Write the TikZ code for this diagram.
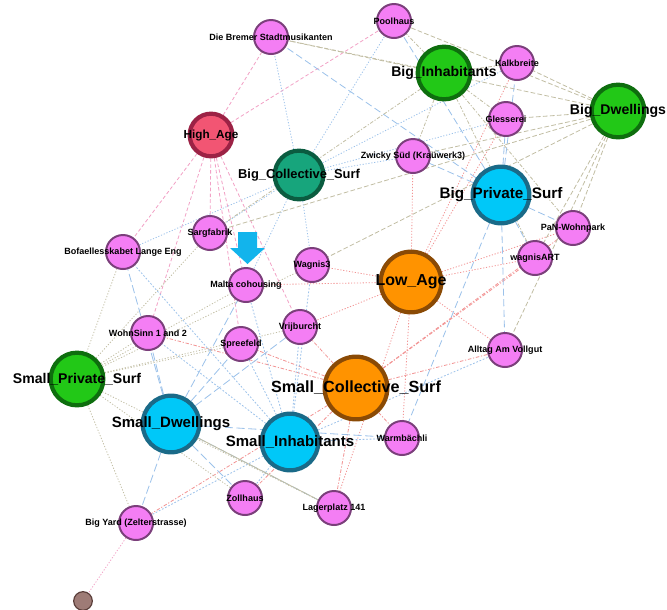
\documentclass[tikz,border=0pt]{standalone}
\usepackage{fontspec}
\setmainfont{Liberation Sans}
\usetikzlibrary{backgrounds}

\definecolor{projfill}{HTML}{F47EF4}
\definecolor{projline}{HTML}{7B3F7B}
\definecolor{grnfill}{HTML}{22C817}
\definecolor{grnline}{HTML}{0E6E0E}
\definecolor{cyfill}{HTML}{00C8F8}
\definecolor{cyline}{HTML}{1A6A88}
\definecolor{orfill}{HTML}{FF9300}
\definecolor{orline}{HTML}{8A4A05}
\definecolor{agefill}{HTML}{F25573}
\definecolor{ageline}{HTML}{9C2245}
\definecolor{tealfill}{HTML}{17A57C}
\definecolor{tealline}{HTML}{0B5C40}
\definecolor{brfill}{HTML}{9E7B76}
\definecolor{brline}{HTML}{5A3E3A}
\definecolor{arrowcy}{HTML}{12B4EC}
\definecolor{epink}{HTML}{F2A2C6}
\definecolor{ered}{HTML}{F29494}
\definecolor{eblue}{HTML}{9CC2EA}
\definecolor{egrey}{HTML}{C2BEA4}

\begin{document}
\begin{tikzpicture}[x=0.03cm, y=-0.03cm,
	proj/.style={circle, draw=projline, fill=projfill, line width=1.7pt, minimum size=1.02cm, inner sep=0pt},
	plab/.style={font=\bfseries\fontsize{7.7}{8}\selectfont, inner sep=0pt},
	attr/.style={circle, line width=3.6pt, inner sep=0pt},
	alab/.style={font=\bfseries\fontsize{#1}{#1}\selectfont, inner sep=0pt},
	edge/.style={line width=0.7pt}]
	\useasboundingbox (0,0) rectangle (667,609);

	% attribute nodes
	\node[attr, draw=grnline, fill=grnfill, minimum size=1.58cm, label={[alab=12]center:Big\_Inhabitants}] (binh) at (444,73) {};
	\node[attr, draw=grnline, fill=grnfill, minimum size=1.58cm, label={[alab=12]center:Big\_Dwellings}] (bdwe) at (618,111) {};
	\node[attr, draw=ageline, fill=agefill, minimum size=1.28cm, label={[alab=10]center:High\_Age}] (hage) at (211,135) {};
	\node[attr, draw=tealline, fill=tealfill, minimum size=1.46cm, label={[alab=11]center:Big\_Collective\_Surf}] (bcol) at (299,175) {};
	\node[attr, draw=cyline, fill=cyfill, minimum size=1.7cm, label={[alab=13]center:Big\_Private\_Surf}] (bpri) at (501,195) {};
	\node[attr, draw=orline, fill=orfill, minimum size=1.82cm, label={[alab=13.6]center:Low\_Age}] (lage) at (411,282) {};
	\node[attr, draw=grnline, fill=grnfill, minimum size=1.58cm, label={[alab=12]center:Small\_Private\_Surf}] (spri) at (77,379) {};
	\node[attr, draw=orline, fill=orfill, minimum size=1.88cm, label={[alab=13.8]center:Small\_Collective\_Surf}] (scol) at (356,388) {};
	\node[attr, draw=cyline, fill=cyfill, minimum size=1.7cm, label={[alab=12.8]center:Small\_Dwellings}] (sdwe) at (171,424) {};
	\node[attr, draw=cyline, fill=cyfill, minimum size=1.7cm, label={[alab=12.8]center:Small\_Inhabitants}] (sinh) at (290,442) {};

	% projects
	\node[proj, label={[plab]center:Poolhaus}] (pool) at (394,21) {};
	\node[proj, label={[plab]center:Die Bremer Stadtmusikanten}] (brem) at (271,37) {};
	\node[proj, label={[plab]center:Kalkbreite}] (kalk) at (517,63) {};
	\node[proj, label={[plab]center:Glesserei}] (gies) at (506,119) {};
	\node[proj, label={[plab]center:Zwicky Süd (Kraüwerk3)}] (zwic) at (413,156) {};
	\node[proj, label={[plab]center:PaN-Wohnpark}] (pan) at (573,228) {};
	\node[proj, label={[plab]center:wagnisART}] (wart) at (535,258) {};
	\node[proj, label={[plab]center:Sargfabrik}] (sarg) at (210,233) {};
	\node[proj, label={[plab]center:Bofaellesskabet Lange Eng}] (bofa) at (123,252) {};
	\node[proj, label={[plab]center:Wagnis3}] (wag3) at (312,265) {};
	\node[proj, label={[plab]center:Malta cohousing}] (malt) at (246,285) {};
	\node[proj, label={[plab]center:Vrijburcht}] (vrij) at (300,327) {};
	\node[proj, label={[plab]center:WohnSinn 1 and 2}] (wohn) at (148,333) {};
	\node[proj, label={[plab]center:Spreefeld}] (spre) at (241,344) {};
	\node[proj, label={[plab]center:Alltag Am Vollgut}] (allt) at (505,350) {};
	\node[proj, label={[plab]center:Warmbächli}] (warm) at (402,438) {};
	\node[proj, label={[plab]center:Zollhaus}] (zoll) at (245,498) {};
	\node[proj, label={[plab]center:Lagerplatz 141}] (lager) at (334,508) {};
	\node[proj, label={[plab]center:Big Yard (Zelterstrasse)}] (byard) at (136,523) {};
	\node[circle, draw=brline, fill=brfill, line width=1pt, minimum size=0.56cm, inner sep=0pt] (odd) at (83,601) {};

	% marker over Malta cohousing
	\fill[arrowcy] (238,232) -- (257,232) -- (257,248) -- (265,248) -- (247.5,264) -- (230,248) -- (238,248) -- cycle;

	\begin{scope}[on background layer]
		\foreach \p in {pool,brem,sarg,bofa,wohn,malt,vrij,spre}
			\draw[edge, epink, dash pattern=on 3pt off 2pt] (hage) -- (\p);
		\foreach \p in {kalk,gies,zwic,pan,wart,allt,wag3,malt,vrij,warm,lager}
			\draw[edge, ered, dash pattern=on 1pt off 1.5pt] (lage) -- (\p);
		\foreach \p in {brem,pool,zwic,gies,kalk,sarg,bofa,wag3,malt}
			\draw[edge, eblue, dash pattern=on 1pt off 1.5pt] (bcol) -- (\p);
		\foreach \p in {pan,wart,allt,vrij,spre,wohn,warm,zoll,lager,byard}
			\draw[edge, ered, dash pattern=on 3pt off 1.5pt on 1pt off 1.5pt] (scol) -- (\p);
		\foreach \p in {pool,brem,kalk,gies,zwic,pan,wart,allt,warm}
			\draw[edge, eblue, dash pattern=on 6pt off 3pt] (bpri) -- (\p);
		\foreach \p in {sarg,bofa,wohn,malt,spre,vrij,wag3,byard,zoll,lager}
			\draw[edge, egrey, dash pattern=on 1pt off 1.5pt] (spri) -- (\p);
		\foreach \p in {pool,brem,kalk,gies,zwic,pan,wart,allt,sarg,wag3}
			\draw[edge, egrey, dash pattern=on 4pt off 2pt] (bdwe) -- (\p);
		\foreach \p in {bofa,wohn,malt,spre,vrij,warm,zoll,lager,byard}
			\draw[edge, eblue, dash pattern=on 7pt off 3pt] (sdwe) -- (\p);
		\foreach \p in {pool,brem,kalk,gies,zwic,pan,wart,sarg}
			\draw[edge, egrey, dash pattern=on 3pt off 1.5pt on 1pt off 1.5pt] (binh) -- (\p);
		\foreach \p in {bofa,wohn,malt,spre,vrij,wag3,warm,zoll,allt,byard}
			\draw[edge, eblue, dash pattern=on 1.5pt off 1.5pt] (sinh) -- (\p);
		\draw[edge, egrey] (sdwe) -- (lager);
		\draw[edge, epink, dash pattern=on 1pt off 1.5pt] (byard) -- (odd);
	\end{scope}
\end{tikzpicture}
\end{document}
